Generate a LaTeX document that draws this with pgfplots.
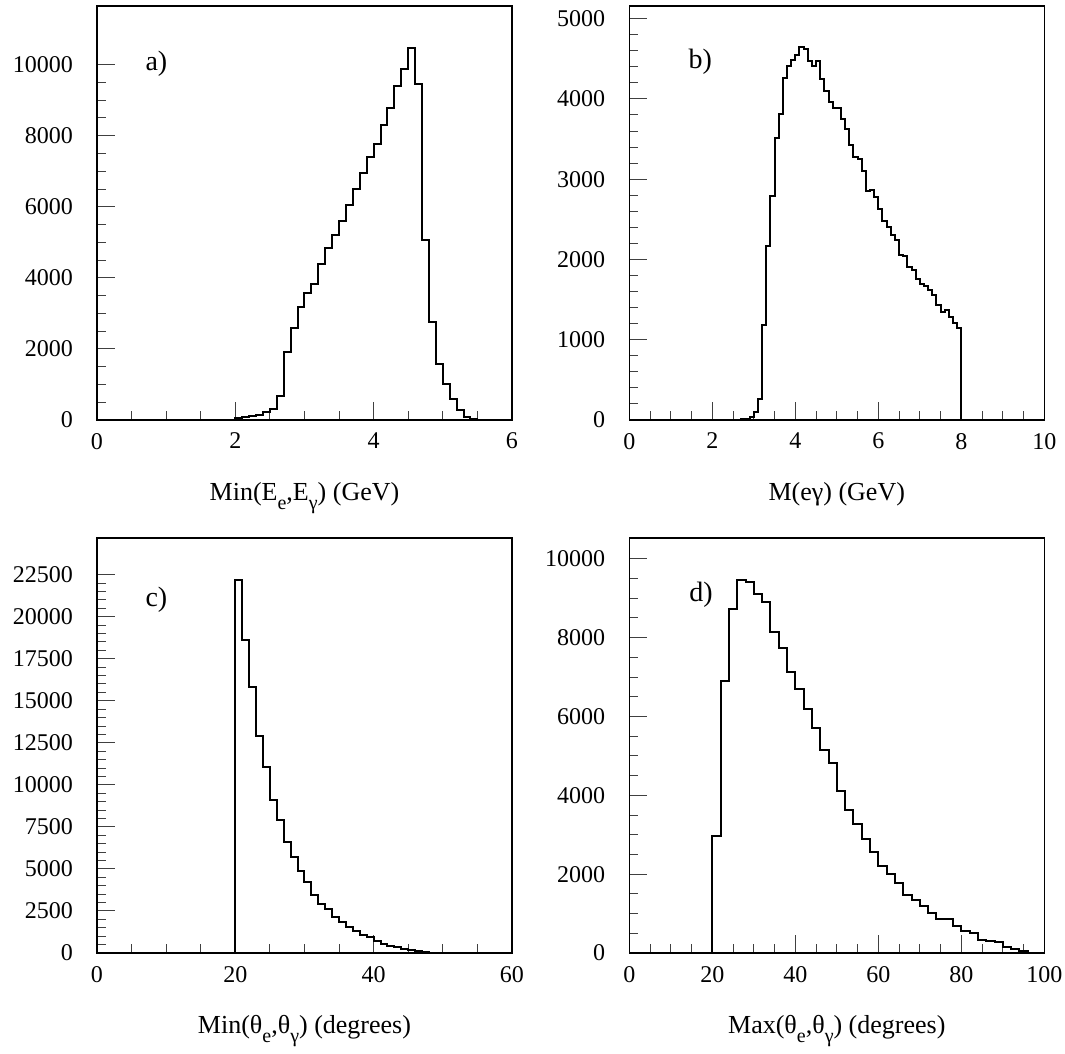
\documentclass[border=0pt]{standalone}
\usepackage{fontspec}
\setmainfont{Liberation Serif}
\usepackage{pgfplots}
\pgfplotsset{compat=1.18}

% lowered subscript in the text font, as in the original labels
\newcommand{\sub}[1]{\raisebox{-0.35em}{\fontsize{10}{10}\selectfont #1}}

\pgfplotsset{
  hbook/.style={
    scale only axis, width=207.5pt, height=207pt, anchor=south west,
    axis line style={line width=0.6pt},
    tick align=inside, tick pos=left,
    major tick length=9pt, minor tick length=4.5pt,
    every tick/.style={black!75, line width=0.5pt},
    ymin=0,
    scaled ticks=false,
    /pgf/number format/assume math mode=true,
    /pgf/number format/1000 sep={},
    tick label style={font=\fontsize{12}{14}\selectfont},
    xticklabel style={yshift=-3pt},
    yticklabel style={xshift=-8.5pt},
    xlabel style={at={(axis description cs:0.5,0)}, anchor=base, yshift=-40pt,
                  font=\fontsize{13}{15}\selectfont},
  },
  hist/.style={const plot, black, line width=1pt, mark=none},
}

\begin{document}
\begin{tikzpicture}
\useasboundingbox (0,0) rectangle (532.5pt,-527pt);

% a) Min(Ee,Eg)
\begin{axis}[hbook, at={(48.5pt,-210pt)},
  xmin=0, xmax=6, ymax=11650,
  xtick={0,2,4,6}, minor x tick num=3,
  ytick={0,2000,4000,6000,8000,10000}, minor y tick num=3,
  xlabel={Min(E\sub{e},E\sub{γ}) (GeV)}]
\addplot[hist] coordinates {
(0,0) (2.0,50) (2.1,75) (2.2,110) (2.3,130) (2.4,225) (2.5,310) (2.6,680)
(2.7,1925) (2.8,2590) (2.9,3190) (3.0,3560) (3.1,3820) (3.2,4390) (3.3,4830)
(3.4,5200) (3.5,5600) (3.6,6060) (3.7,6510) (3.8,6940) (3.9,7410) (4.0,7770)
(4.1,8300) (4.2,8790) (4.3,9410) (4.4,9880) (4.5,10460) (4.6,9460) (4.7,5060)
(4.8,2760) (4.9,1580) (5.0,1000) (5.1,590) (5.2,270) (5.3,95) (5.4,20)
(5.5,0) (6,0)
};
\node[anchor=base west, font=\fontsize{14}{16}\selectfont] at (rel axis cs:0.1,0.843) {a)};
\end{axis}

% b) M(eg)
\begin{axis}[hbook, at={(314.65pt,-210pt)},
  xmin=0, xmax=10, ymax=5158,
  xtick={0,2,4,6,8,10}, minor x tick num=3,
  ytick={0,1000,2000,3000,4000,5000}, minor y tick num=4,
  xlabel={M(eγ) (GeV)}]
\addplot[hist] coordinates {
(0,0) (2.7,8) (2.8,17) (2.9,40) (3.0,95) (3.1,257) (3.2,1187) (3.3,2166)
(3.4,2793) (3.5,3510) (3.6,3813) (3.7,4261) (3.8,4411) (3.9,4490) (4.0,4544)
(4.1,4643) (4.2,4622) (4.3,4473) (4.4,4411) (4.5,4469) (4.6,4245) (4.7,4100)
(4.8,3967) (4.9,3892) (5.0,3884) (5.1,3747) (5.2,3622) (5.3,3432) (5.4,3278)
(5.5,3253) (5.6,3108) (5.7,2859) (5.8,2867) (5.9,2776) (6.0,2631) (6.1,2481)
(6.2,2402) (6.3,2307) (6.4,2241) (6.5,2050) (6.6,2041) (6.7,1909) (6.8,1867)
(6.9,1751) (7.0,1689) (7.1,1668) (7.2,1614) (7.3,1552) (7.4,1427) (7.5,1344)
(7.6,1365) (7.7,1278) (7.8,1203) (7.9,1141) (8.0,0) (10,0)
};
\node[anchor=base west, font=\fontsize{14}{16}\selectfont] at (rel axis cs:0.126,0.85) {b)};
\end{axis}

% c) Min(theta_e,theta_g)
\begin{axis}[hbook, at={(48.5pt,-476.5pt)}, height=207.5pt,
  xmin=0, xmax=60, ymax=24680,
  xtick={0,20,40,60}, minor x tick num=3,
  ytick={0,2500,5000,7500,10000,12500,15000,17500,20000,22500}, minor y tick num=4,
  xlabel={Min(θ\sub{e},θ\sub{γ}) (degrees)}]
\addplot[hist] coordinates {
(0,0) (20,22202) (21,18631) (22,15813) (23,12897) (24,11091) (25,9107)
(26,7936) (27,6589) (28,5714) (29,4901) (30,4206) (31,3452) (32,2917)
(33,2610) (34,2115) (35,1815) (36,1555) (37,1310) (38,1100) (39,930)
(40,700) (41,560) (42,440) (43,340) (44,240) (45,160) (46,100) (47,60)
(48,30) (49,0) (60,0)
};
\node[anchor=base west, font=\fontsize{14}{16}\selectfont] at (rel axis cs:0.1,0.836) {c)};
\end{axis}

% d) Max(theta_e,theta_g)
\begin{axis}[hbook, at={(314.65pt,-476.5pt)}, height=207.5pt,
  xmin=0, xmax=100, ymax=10525,
  xtick={0,20,40,60,80,100}, minor x tick num=3,
  ytick={0,2000,4000,6000,8000,10000}, minor y tick num=3,
  xlabel={Max(θ\sub{e},θ\sub{γ}) (degrees)}]
\addplot[hist] coordinates {
(0,0) (20,2965) (22,6904) (24,8716) (26,9470) (28,9402) (30,9097) (32,8893)
(34,8131) (36,7735) (38,7125) (40,6701) (42,6200) (44,5710) (46,5150)
(48,4820) (50,4101) (52,3626) (54,3270) (56,2881) (58,2559) (60,2203)
(62,2000) (64,1770) (66,1465) (68,1355) (70,1185) (72,1010) (74,860)
(76,860) (78,680) (80,569) (82,508) (84,341) (86,297) (88,271) (90,163)
(92,95) (94,42) (96,10) (98,0) (100,0)
};
\node[anchor=base west, font=\fontsize{14}{16}\selectfont] at (rel axis cs:0.128,0.848) {d)};
\end{axis}
\end{tikzpicture}
\end{document}
